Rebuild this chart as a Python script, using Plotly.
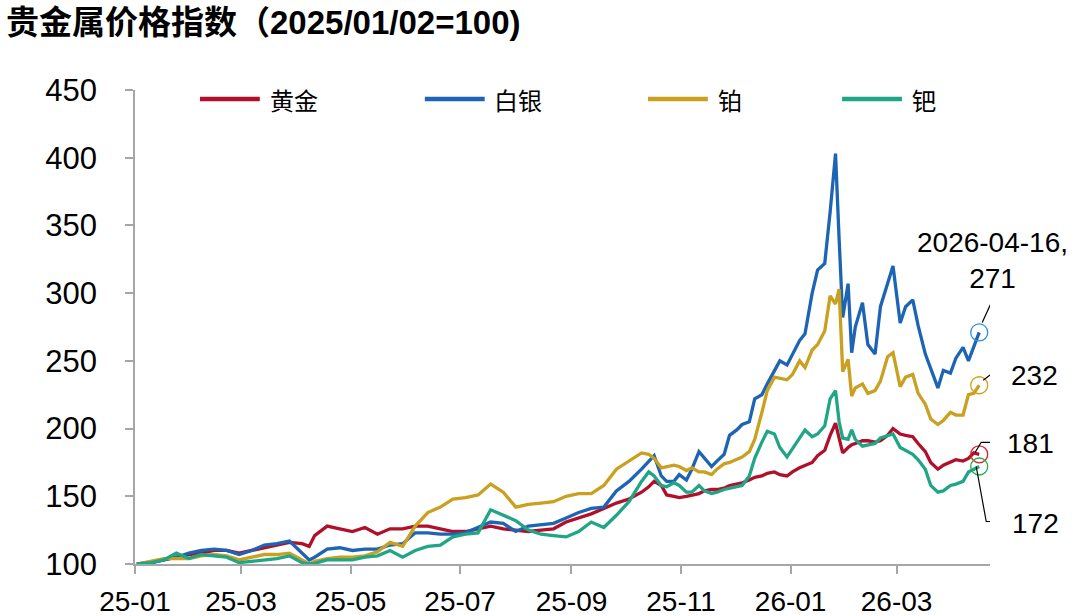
import plotly.graph_objects as go

dates = [
    "2025-01-02", "2025-01-10", "2025-01-17", "2025-01-24", "2025-01-31",
    "2025-02-07", "2025-02-14", "2025-02-21", "2025-02-28",
    "2025-03-07", "2025-03-14", "2025-03-21", "2025-03-28",
    "2025-04-04", "2025-04-08", "2025-04-11", "2025-04-18", "2025-04-25",
    "2025-05-02", "2025-05-09", "2025-05-16", "2025-05-23", "2025-05-30",
    "2025-06-06", "2025-06-13", "2025-06-20", "2025-06-27",
    "2025-07-04", "2025-07-11", "2025-07-18", "2025-07-25",
    "2025-08-01", "2025-08-08", "2025-08-15", "2025-08-22", "2025-08-29",
    "2025-09-05", "2025-09-12", "2025-09-19", "2025-09-26",
    "2025-10-03", "2025-10-10", "2025-10-14", "2025-10-17", "2025-10-21", "2025-10-24", "2025-10-28", "2025-10-31",
    "2025-11-04", "2025-11-07", "2025-11-11", "2025-11-14", "2025-11-18", "2025-11-21", "2025-11-25", "2025-11-28",
    "2025-12-02", "2025-12-05", "2025-12-09", "2025-12-12", "2025-12-16", "2025-12-19", "2025-12-23", "2025-12-26", "2025-12-30",
    "2026-01-02", "2026-01-06", "2026-01-09", "2026-01-13", "2026-01-16", "2026-01-20", "2026-01-23", "2026-01-26", "2026-01-28", "2026-01-30",
    "2026-02-02", "2026-02-04", "2026-02-06", "2026-02-10", "2026-02-13", "2026-02-17", "2026-02-20", "2026-02-24", "2026-02-27",
    "2026-03-03", "2026-03-06", "2026-03-10", "2026-03-13", "2026-03-17", "2026-03-20", "2026-03-24", "2026-03-27", "2026-03-31",
    "2026-04-03", "2026-04-07", "2026-04-10", "2026-04-13", "2026-04-16",
]

gold = [
    100, 101, 103, 105, 107,
    108, 110, 110, 108,
    110, 112, 114, 116,
    115, 113, 121, 128, 126,
    124, 127, 122, 126, 126,
    128, 128, 126, 124,
    124, 126, 128, 126,
    125, 124, 125, 126, 131,
    134, 137, 141, 145,
    148, 153, 157, 161, 158, 151, 150, 149,
    150, 151, 152, 154, 155, 155, 156, 158,
    159, 160, 162, 164, 165, 167, 168, 166, 165,
    168, 171, 173, 175, 180, 184, 195, 204, 193, 182,
    186, 188, 189, 191, 191, 190, 191, 195, 200,
    196, 195, 194, 189, 183, 175, 170, 173, 175,
    177, 176, 178, 182, 181,
]

silver = [
    100, 101, 103, 105, 108,
    110, 111, 110, 107,
    110, 114, 115, 117,
    108, 103, 105, 111, 112,
    110, 111, 111, 114, 115,
    123, 123, 122, 122,
    123, 127, 131, 130,
    124, 128, 129, 130, 134,
    138, 141, 142, 154,
    161, 170, 176, 180, 165, 161, 161, 166,
    162, 170, 183, 178, 172, 176, 181, 195,
    199, 203, 205, 222, 225, 233, 243, 250, 247,
    255, 265, 270, 300, 317, 322, 360, 403, 340, 282,
    307, 256, 275, 293, 262, 255, 290, 307, 320,
    278, 290, 295, 276, 255, 245, 230, 243, 241,
    252, 260, 250, 260, 271,
]

platinum = [
    100, 102, 104, 104, 104,
    106, 107, 106, 103,
    105, 107, 107, 108,
    103, 100, 102, 104, 105,
    105, 106, 109, 116, 113,
    128, 138, 142, 148,
    149, 151, 159, 153,
    142, 144, 145, 146, 150,
    152, 152, 158, 170,
    176, 182, 181, 178, 171, 172, 173, 172,
    169, 171, 168, 168, 166, 170, 174, 175,
    177, 179, 183, 192, 212, 228, 238, 237, 236,
    240, 250, 245, 258, 262, 272, 298, 292, 303, 242,
    251, 224, 230, 233, 226, 228, 235, 253, 256,
    231, 238, 240, 226, 218, 207, 203, 206, 212,
    210, 210, 225, 226, 232,
]

palladium = [
    100, 101, 103, 108, 104,
    107, 106, 105, 101,
    102, 103, 104, 106,
    101, 100, 100.5, 103, 103,
    103, 105, 106, 110, 105,
    110, 113, 114, 120,
    122, 123, 140, 136,
    132, 125, 122, 121, 120,
    124, 131, 127, 136,
    146, 161, 168, 165, 158, 157, 160, 158,
    153, 153, 158, 154, 152, 153, 155, 156,
    157, 158, 165, 178, 190, 198, 196, 186, 179,
    185, 192, 199, 194, 196, 202, 222, 228, 205, 193,
    192, 199, 192, 187, 188, 189, 193, 195, 196,
    186, 184, 181, 177, 170, 158, 153, 154, 158,
    159, 161, 168, 170, 172,
]

series_names = ["黄金", "白银", "铂", "钯"]
y_ticks = [100, 150, 200, 250, 300, 350, 400, 450]

line_colors = ["#B0102A", "#1E64B4", "#C9A020", "#20A587"]
circle_colors = ["#E3202A", "#2A8FE0", "#D4A017", "#1FB04A"]
series_values = [gold, silver, platinum, palladium]

NUM_FONT = "Liberation Sans, Arial, sans-serif"
CJK_FONT = "Noto Sans CJK SC, sans-serif"

fig = go.Figure()
for name, vals, col in zip(series_names, series_values, line_colors):
    fig.add_trace(go.Scatter(x=dates, y=vals, mode="lines", name=name,
                             line=dict(color=col, width=3.3), showlegend=False))

for vals, ccol in zip(series_values, circle_colors):
    fig.add_trace(go.Scatter(x=[dates[-1]], y=[vals[-1]], mode="markers", showlegend=False,
                             marker=dict(symbol="circle-open", size=17, color=ccol,
                                         line=dict(width=1.3, color=ccol))))

shapes = []
annotations = []

# leader lines (pixel offsets relative to the last data point)
leader_paths = {
    1: "M 3 10 L 14 34",
    2: "M 4 5 L 13 12 L 24 12",
    0: "M -4 2 L 2 12 L 16 12",
    3: "M -3 0 L 7 -55 L 21 -55",
}
for idx, path in leader_paths.items():
    shapes.append(dict(type="path", xref="x", yref="y", xsizemode="pixel", ysizemode="pixel",
                       xanchor=dates[-1], yanchor=series_values[idx][-1], path=path,
                       line=dict(color="black", width=1.2)))

label_font = dict(family=NUM_FONT, size=28, color="black")
annotations.append(dict(x=dates[-1], y=silver[-1], xref="x", yref="y", showarrow=False,
                        text=f"{dates[-1]},<br>{silver[-1]}", xanchor="center", yanchor="middle",
                        xshift=13, yshift=72, font=label_font, align="center"))
annotations.append(dict(x=dates[-1], y=platinum[-1], xref="x", yref="y", showarrow=False,
                        text=f"{platinum[-1]}", xanchor="left", yanchor="middle",
                        xshift=30, yshift=10, font=label_font))
annotations.append(dict(x=dates[-1], y=gold[-1], xref="x", yref="y", showarrow=False,
                        text=f"{gold[-1]}", xanchor="left", yanchor="middle",
                        xshift=26, yshift=11, font=label_font))
annotations.append(dict(x=dates[-1], y=palladium[-1], xref="x", yref="y", showarrow=False,
                        text=f"{palladium[-1]}", xanchor="left", yanchor="middle",
                        xshift=31, yshift=-57, font=label_font))

# manual legend
leg_y = 0.981
leg_starts = [0.076, 0.339, 0.600, 0.827]
for name, col, x0 in zip(series_names, line_colors, leg_starts):
    shapes.append(dict(type="line", xref="paper", yref="paper", x0=x0, x1=x0 + 0.070,
                       y0=leg_y, y1=leg_y, line=dict(color=col, width=4.5)))
    annotations.append(dict(x=x0 + 0.079, y=leg_y, xref="paper", yref="paper", showarrow=False,
                            text=name, xanchor="left", yanchor="middle",
                            font=dict(family=CJK_FONT, size=24, color="black")))

fig.update_layout(
    width=1080, height=616,
    margin=dict(l=135, r=90, t=90, b=52, autoexpand=False),
    paper_bgcolor="white", plot_bgcolor="white",
    title=dict(text='贵金属价格指数（2025/01/02=100)',
               x=0, xref="container", xanchor="left",
               y=1 - 22 / 616, yref="container", yanchor="middle",
               pad=dict(l=6, r=0, t=0, b=0),
               font=dict(family="Liberation Sans, Noto Sans CJK SC, sans-serif", size=33,
                         color="black", weight="bold")),
    shapes=shapes, annotations=annotations,
    xaxis=dict(type="date", range=["2025-01-01", "2026-04-22"], tick0="2025-01-01",
               dtick="M2", tickformat="%y-%m", showline=True, linecolor="#A6A6A6",
               linewidth=1.5, ticks="outside", ticklen=8, tickcolor="#A6A6A6", tickwidth=1.5,
               showgrid=False, zeroline=False, ticklabelstandoff=4, automargin=False,
               tickfont=dict(family=NUM_FONT, size=28, color="black")),
    yaxis=dict(range=[100, 450], tickvals=y_ticks, showline=True, linecolor="#A6A6A6",
               linewidth=1.5, ticks="outside", ticklen=8, tickcolor="#A6A6A6", tickwidth=1.5,
               showgrid=False, zeroline=False, ticklabelstandoff=22, automargin=False,
               tickfont=dict(family=NUM_FONT, size=31, color="black")),
)

fig.write_html("out.html", config={"displayModeBar": False},
               post_script="document.body.style.margin='0';document.body.style.overflow='hidden';")
